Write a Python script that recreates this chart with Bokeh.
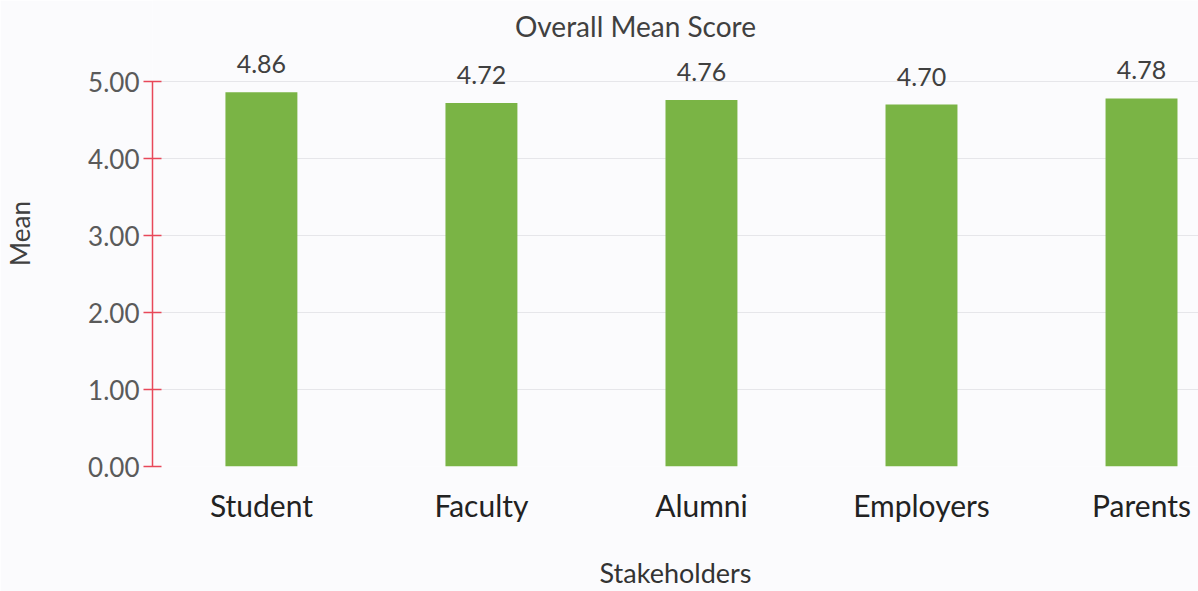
from bokeh.plotting import figure
from bokeh.models import Range1d, FixedTicker, NumeralTickFormatter, ColumnDataSource, Label
from bokeh.embed import file_html
from bokeh.resources import INLINE
from bokeh.core.properties import value

categories = ["Student", "Faculty", "Alumni", "Employers", "Parents"]
means = [4.86, 4.72, 4.76, 4.70, 4.78]
mean_labels = ["4.86", "4.72", "4.76", "4.70", "4.78"]
y_ticks = [0, 1, 2, 3, 4, 5]
title_text = "Overall Mean Score"
x_title = "Stakeholders"
y_title = "Mean"

FONT = "Lato"
positions = list(range(len(categories)))
src = ColumnDataSource(dict(x=positions, top=means, lab=mean_labels))

p = figure(width=1198, height=591, output_backend="svg", toolbar_location=None,
           x_range=Range1d(-0.495, 4.259), y_range=Range1d(0, 6.052),
           min_border_left=152, min_border_right=0, min_border_top=0,
           min_border_bottom=125)
p.background_fill_color = "#fbfbfd"
p.border_fill_color = "#fbfbfd"
p.outline_line_color = None

p.vbar(x="x", top="top", width=0.327, bottom=0, source=src,
       fill_color="#7ab445", line_color=None)
p.text(x="x", y="top", text="lab", source=src, text_align="center",
       text_baseline="bottom", y_offset=-19, text_font=value(FONT),
       text_font_size="25px", text_color="#404040")

p.add_layout(Label(x=1.70, y=5.72, text=title_text, text_align="center",
                   text_baseline="middle", text_font=FONT, text_font_size="28px",
                   text_color="#404040"))

# y axis
ya = p.yaxis[0]
ya.ticker = FixedTicker(ticks=y_ticks)
ya.bounds = (min(y_ticks), max(y_ticks))
ya.formatter = NumeralTickFormatter(format="0.00")
ya.axis_line_color = "#e8485a"
ya.axis_line_width = 1.5
ya.major_tick_line_color = "#e8485a"
ya.major_tick_line_width = 1.5
ya.major_tick_out = 9
ya.major_tick_in = 9
ya.minor_tick_line_color = None
ya.major_label_standoff = 4
ya.major_label_text_font = FONT
ya.major_label_text_font_size = "26px"
ya.major_label_text_color = "#5a5a5a"
ya.axis_label = y_title
ya.axis_label_text_font = FONT
ya.axis_label_text_font_size = "26px"
ya.axis_label_text_font_style = "normal"
ya.axis_label_text_color = "#404040"
ya.axis_label_standoff = 49

# x axis
xa = p.xaxis[0]
xa.ticker = FixedTicker(ticks=positions)
xa.major_label_overrides = {i: c for i, c in zip(positions, categories)}
xa.axis_line_color = None
xa.major_tick_line_color = None
xa.minor_tick_line_color = None
xa.major_label_standoff = 14
xa.major_label_text_font = FONT
xa.major_label_text_font_size = "30px"
xa.major_label_text_color = "#222222"
xa.axis_label = x_title
xa.axis_label_text_font = FONT
xa.axis_label_text_font_size = "27px"
xa.axis_label_text_font_style = "normal"
xa.axis_label_text_color = "#333333"
xa.axis_label_standoff = 30

p.xgrid.grid_line_color = None
p.ygrid.grid_line_color = "#e6e6ea"
p.ygrid.ticker = FixedTicker(ticks=y_ticks)

open("out.html", "w").write(file_html(p, INLINE))
